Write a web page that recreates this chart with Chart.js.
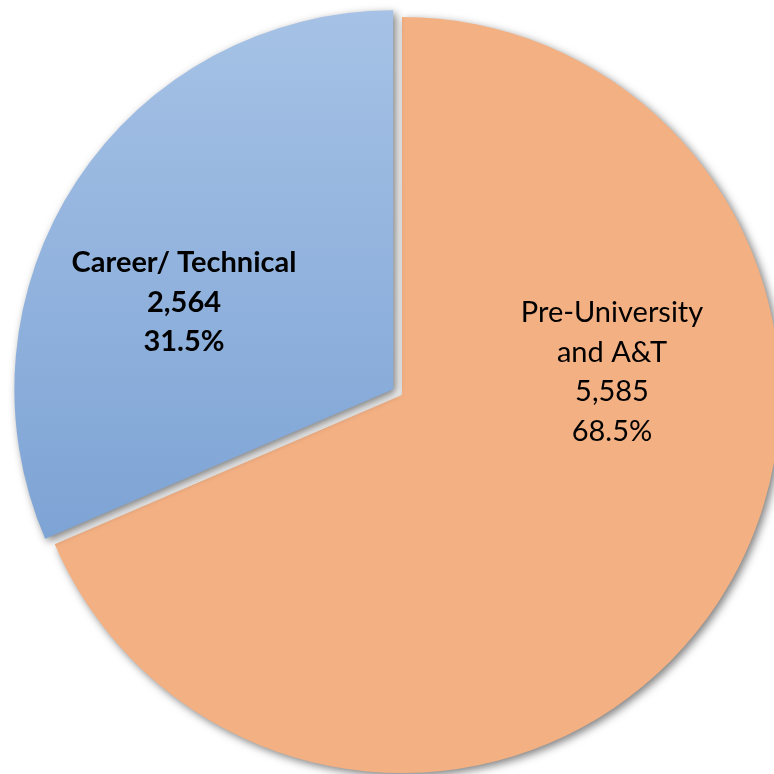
<!DOCTYPE html>
<html>
<head>
<meta charset="utf-8">
<script src="https://cdn.jsdelivr.net/npm/chart.js@4"></script>
<style>
  html, body { margin: 0; padding: 0; background: #fff; overflow: hidden; }
  #wrap { width: 774px; height: 774px; }
</style>
</head>
<body>
<div id="wrap"><canvas id="pieChart"></canvas></div>
<script>
// Data
const categories = ['Pre-University and A&T', 'Career/ Technical'];
const labelLines = [['Pre-University', 'and A&T'], ['Career/ Technical']];
const counts = [5585, 2564];
const percents = ['68.5%', '31.5%'];

// Slice drop shadow
const shadowPlugin = {
  id: 'shadow',
  beforeDatasetDraw(chart) {
    const c = chart.ctx;
    c.save();
    c.shadowColor = 'rgba(0,0,0,0.5)';
    c.shadowBlur = 8;
    c.shadowOffsetX = 3;
    c.shadowOffsetY = 3;
  },
  afterDatasetDraw(chart) {
    chart.ctx.restore();
  }
};

// Labels inside slices
const sliceLabels = {
  id: 'sliceLabels',
  afterDatasetsDraw(chart) {
    const c = chart.ctx;
    const arcs = chart.getDatasetMeta(0).data;
    const pos = [[612, 313], [184, 263]];
    c.save();
    c.fillStyle = '#000';
    c.textAlign = 'center';
    c.textBaseline = 'middle';
    arcs.forEach((arc, i) => {
      const lines = labelLines[i].concat([counts[i].toLocaleString('en-US'), percents[i]]);
      c.font = (i === 1 ? 'bold ' : '') + '29px Lato, "Open Sans", sans-serif';
      lines.forEach((t, j) => c.fillText(t, pos[i][0], pos[i][1] + j * 39.5));
    });
    c.restore();
  }
};

const ctx = document.getElementById('pieChart').getContext('2d');
const blueGrad = ctx.createLinearGradient(0, 10, 0, 540);
blueGrad.addColorStop(0, '#a6c2e6');
blueGrad.addColorStop(1, '#7ea4d5');

new Chart(ctx, {
  type: 'pie',
  data: {
    labels: categories,
    datasets: [{
      data: counts,
      backgroundColor: ['#f3b083', blueGrad],
      borderWidth: 0,
      offset: [0, 42]
    }]
  },
  options: {
    responsive: true,
    maintainAspectRatio: false,
    animation: false,
    radius: 378,
    layout: { padding: { left: 30, right: 0, top: 16, bottom: 0 } },
    plugins: {
      legend: { display: false },
      tooltip: { enabled: false }
    }
  },
  plugins: [shadowPlugin, sliceLabels]
});
</script>
</body>
</html>
